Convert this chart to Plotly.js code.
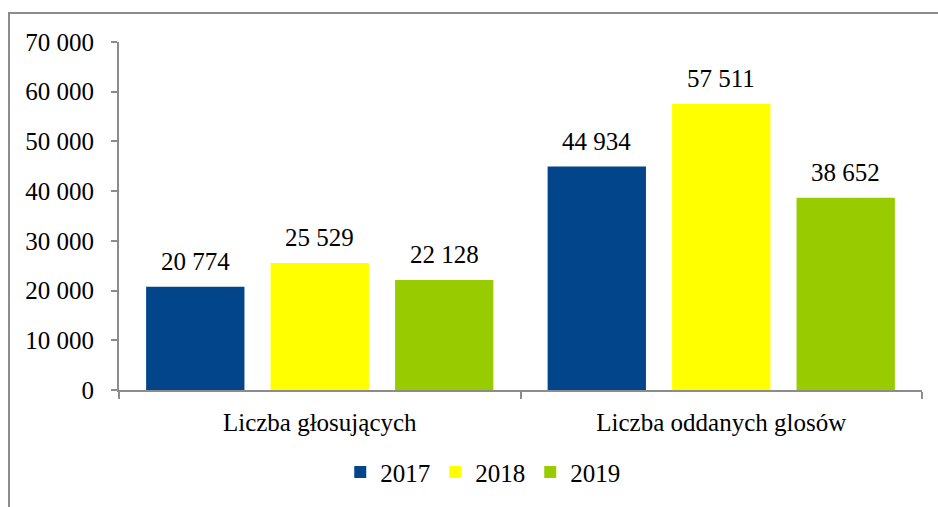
<!DOCTYPE html>
<html>
<head>
<meta charset="utf-8">
<script src="https://cdn.plot.ly/plotly-3.0.1.min.js"></script>
<style>
html,body{margin:0;padding:0;width:938px;height:507px;overflow:hidden;background:#fff;}
#frame{position:absolute;left:8px;top:12px;width:1000px;height:600px;border-left:2px solid #8c8c8c;border-top:2px solid #8c8c8c;pointer-events:none;z-index:2;}
#chart{position:absolute;left:0;top:0;width:938px;height:507px;}
</style>
</head>
<body>
<div id="chart"></div>
<div id="frame"></div>
<script>
const categories = ["Liczba głosujących", "Liczba oddanych glosów"];
const seriesNames = ["2017", "2018", "2019"];
const values2017 = [20774, 44934];
const values2018 = [25529, 57511];
const values2019 = [22128, 38652];
const yTicks = [0, 10000, 20000, 30000, 40000, 50000, 60000, 70000];
const colors = ["#02458a", "#ffff00", "#99cc00"];

const allValues = [values2017, values2018, values2019];
const FONT = "Liberation Serif, Times New Roman, serif";
const FS = 25;
const W = 938, H = 507;
const margin = {l: 119, r: 16, t: 42, b: 114};
const bargap = 0.07, bargroupgap = 0.21;

function fmt(v) {
  return String(v).replace(/\B(?=(\d{3})+(?!\d))/g, " ");
}

const traces = allValues.map((vals, i) => ({
  type: "bar",
  name: seriesNames[i],
  x: categories,
  y: vals,
  marker: {color: colors[i], line: {width: 0}},
  hoverinfo: "none"
}));

const plotW = W - margin.l - margin.r;
const slotPx = plotW / categories.length * (1 - bargap) / seriesNames.length;
const annotations = [];
allValues.forEach((vals, i) => {
  vals.forEach((v, j) => {
    annotations.push({
      x: categories[j], y: v, xref: "x", yref: "y",
      xshift: (i - (seriesNames.length - 1) / 2) * slotPx,
      yshift: 10,
      yanchor: "bottom", xanchor: "center",
      showarrow: false,
      text: fmt(v),
      font: {family: FONT, size: FS, color: "#000"}
    });
  });
});

const axisColor = "#8c8c8c";
const layout = {
  width: W, height: H,
  margin: margin,
  paper_bgcolor: "#fff", plot_bgcolor: "#fff",
  separators: ", ",
  barmode: "group",
  bargap: bargap, bargroupgap: bargroupgap,
  font: {family: FONT, size: FS, color: "#000"},
  xaxis: {
    type: "category",
    showline: true, linecolor: axisColor, linewidth: 2,
    ticks: "outside", tickson: "boundaries", ticklen: 7, tickcolor: axisColor, tickwidth: 2,
    showgrid: false, zeroline: false,
    tickfont: {family: FONT, size: FS, color: "#000"},
    ticklabelstandoff: 9
  },
  yaxis: {
    range: [0, 70000],
    tickvals: yTicks,
    ticktext: yTicks.map(fmt),
    showline: true, linecolor: axisColor, linewidth: 2,
    ticks: "outside", ticklen: 6, tickcolor: axisColor, tickwidth: 2,
    showgrid: false, zeroline: false,
    tickfont: {family: FONT, size: FS, color: "#000"},
    ticklabelstandoff: 12
  },
  legend: {
    orientation: "h",
    x: 0.453, xanchor: "center",
    y: -0.2365, yanchor: "middle",
    font: {family: FONT, size: FS, color: "#000"},
    bgcolor: "rgba(0,0,0,0)"
  },
  showlegend: true,
  annotations: annotations
};

Plotly.newPlot("chart", traces, layout, {staticPlot: true, displayModeBar: false});
</script>
</body>
</html>
